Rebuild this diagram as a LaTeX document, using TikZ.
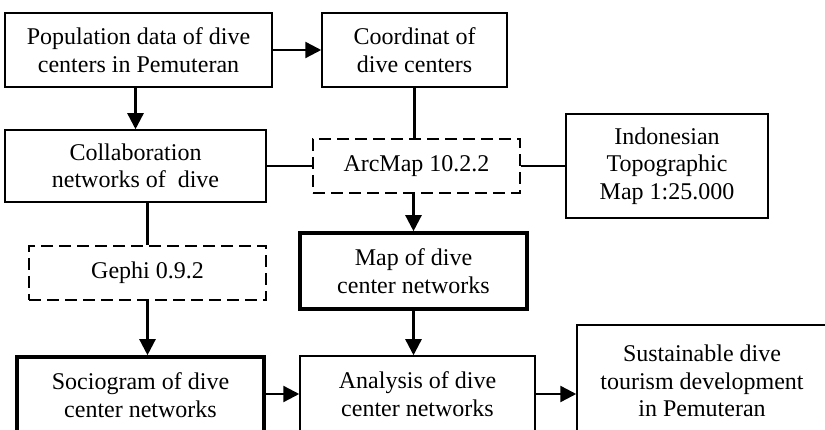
\documentclass[tikz,border=0pt]{standalone}
\usepackage{fontspec}
\setmainfont{Liberation Serif}
\usetikzlibrary{arrows.meta}
\tikzset{
  box/.style={draw, line width=1.5pt, align=center, inner sep=0pt,
    font=\fontsize{24}{27.5}\selectfont},
  heavybox/.style={box, line width=3.6pt},
  dashbox/.style={box, line width=2pt, dash pattern=on 12pt off 6pt},
  flow/.style={line width=2.4pt, -{Triangle[length=16pt,width=16pt]}},
  link/.style={line width=2.4pt}
}
\begin{document}
\begin{tikzpicture}[x=1pt, y=-1pt]
    \fill[white] (0,0) rectangle (825,430);
    \clip (0,0) rectangle (825,430);

    % Draw the data boxes
    \node[box, minimum width=267pt, minimum height=74pt] (popdata) at (138.5,50) {Population data of dive\\centers in Pemuteran};
    \node[box, minimum width=185pt, minimum height=74pt] (coord) at (414.5,50) {Coordinat of\\dive centers};
    \node[box, minimum width=261pt, minimum height=72pt] (collab) at (135.5,166) {Collaboration\\networks of\ \ dive};
    \node[box, minimum width=202pt, minimum height=104pt] (topomap) at (667,166) {Indonesian\\Topographic\\Map 1:25.000};

    % Draw the software boxes
    \node[dashbox, minimum width=207pt, minimum height=54pt] (arcmap) at (416.5,166) {ArcMap 10.2.2};
    \node[dashbox, minimum width=237pt, minimum height=54pt] (gephi) at (147.5,273) {Gephi 0.9.2};

    % Draw the result boxes
    \node[heavybox, minimum width=227pt, minimum height=76pt] (netmap) at (413.5,271) {Map of dive\\center networks};
    \node[heavybox, minimum width=247pt, minimum height=76pt] (sociogram) at (140.5,395) {Sociogram of dive\\center networks};
    \node[box, minimum width=235pt, minimum height=76pt] (analysis) at (417.5,394) {Analysis of dive\\center networks};
    \node[box, minimum width=250pt, minimum height=112pt] (sustain) at (702,381) {Sustainable dive\\tourism development\\in Pemuteran};

    % Draw the connectors
    \draw[flow] (popdata.east) -- (coord.west);
    \draw[flow] (popdata.south -| collab.north) -- (collab.north);
    \draw[link] (coord.south) -- (coord.south |- arcmap.north);
    \draw[link] (collab.east) -- (arcmap.west);
    \draw[link] (arcmap.east) -- (topomap.west);
    \draw[flow] (arcmap.south -| netmap.north) -- (netmap.north);
    \draw[link] (collab.south -| gephi.north) -- (gephi.north);
    \draw[flow] (gephi.south) -- (gephi.south |- sociogram.north);
    \draw[flow] (netmap.south) -- (netmap.south |- analysis.north);
    \draw[flow] (sociogram.east |- analysis.west) -- (analysis.west);
    \draw[flow] (analysis.east) -- (analysis.east -| sustain.west);
\end{tikzpicture}
\end{document}
